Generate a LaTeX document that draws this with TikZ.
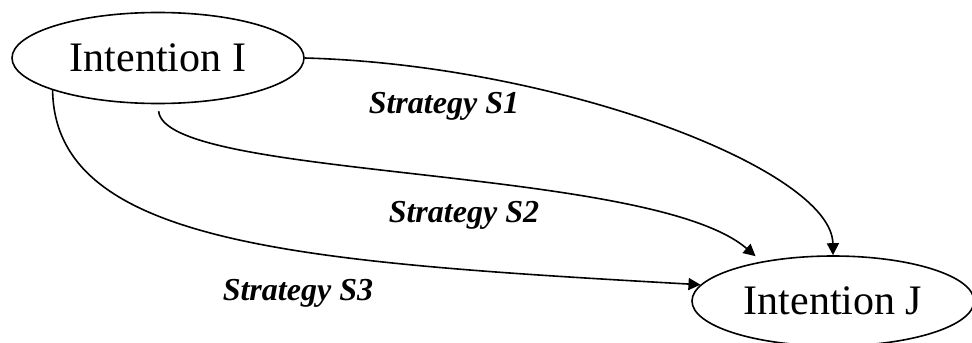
\documentclass[tikz,border=0pt]{standalone}
\usepackage{fontspec}
\setmainfont{Liberation Serif}
\usetikzlibrary{arrows.meta, positioning, shapes}

\begin{document}
\begin{tikzpicture}[x=0.5pt, y=-0.5pt, line width=0.8pt]

\useasboundingbox (0,0) rectangle (972,342);

\node [draw, ellipse, minimum width=146pt, minimum height=45.5pt, inner sep=0pt, font=\fontsize{21}{25}\selectfont] (I) at (158,58) {Intention I};

\node [draw, ellipse, minimum width=141pt, minimum height=45pt, inner sep=0pt, font=\fontsize{21}{25}\selectfont] (J) at (833,301) {Intention J};

\node [anchor=base west, inner sep=0pt, font=\fontsize{16}{19}\selectfont\bfseries\itshape] (s1) at (368,113) {Strategy S1};
\node [anchor=base west, inner sep=0pt, font=\fontsize{16}{19}\selectfont\bfseries\itshape] (s2) at (388,222) {Strategy S2};
\node [anchor=base west, inner sep=0pt, font=\fontsize{16}{19}\selectfont\bfseries\itshape] (s3) at (222,300) {Strategy S3};

\path [draw, -{Triangle[length=6pt, width=6pt]}] (I.east) .. controls (560,65) and (832,170) .. (J.north);
\path [draw, -{Triangle[length=6pt, width=6pt]}, shorten <=3.5pt, shorten >=4pt] (I.south) .. controls (165,180) and (650,165) .. (J.151);
\path [draw, -{Triangle[length=6pt, width=6pt]}] (I.197) .. controls (55,245) and (300,262) .. (J.173);

\end{tikzpicture}
\end{document}
